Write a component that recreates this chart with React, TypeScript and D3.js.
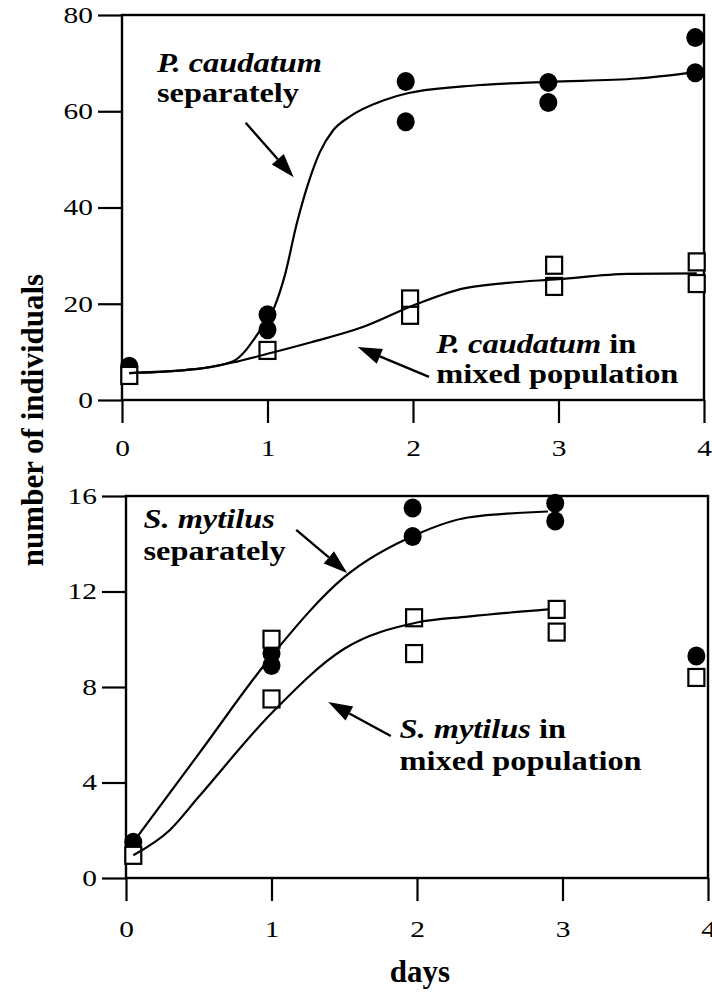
import React, { useEffect, useRef } from 'react';
import * as d3 from 'd3';

// day ticks shared by both panels
const dayTicks = [0, 1, 2, 3, 4];
const caudatumTicks = [0, 20, 40, 60, 80];
const mytilusTicks = [0, 4, 8, 12, 16];

// P. caudatum, top panel
const caudatumAloneDays = [0.05, 1.0, 1.0, 1.95, 1.95, 2.93, 2.93, 3.94, 3.94];
const caudatumAloneCounts = [7.0, 17.7, 14.6, 66.2, 57.8, 66.0, 61.8, 75.3, 68.0];
const caudatumMixedDays = [0.05, 1.0, 1.98, 1.98, 2.97, 2.97, 3.95, 3.95];
const caudatumMixedCounts = [5.1, 10.3, 21.0, 17.6, 28.0, 23.6, 28.7, 24.2];

const caudatumAloneFitDays = [0.05, 0.5, 0.76, 0.95, 1.05, 1.12, 1.2, 1.28, 1.36, 1.45, 1.56, 1.8, 1.97, 2.44, 2.93, 3.54, 3.95];
const caudatumAloneFitCounts = [5.6, 6.4, 8.0, 14.5, 19.5, 26.0, 36.5, 45.0, 51.5, 56.0, 58.8, 62.3, 63.8, 65.4, 66.1, 66.8, 68.2];
const caudatumMixedFitDays = [0.05, 0.5, 0.76, 1.0, 1.3, 1.65, 2.03, 2.35, 2.6, 3.0, 3.48, 3.95];
const caudatumMixedFitCounts = [5.6, 6.4, 7.8, 9.6, 12.0, 15.1, 20.0, 23.2, 24.2, 25.1, 26.2, 26.3];

// S. mytilus, bottom panel
const mytilusAloneDays = [0.05, 1.0, 1.0, 1.97, 1.97, 2.95, 2.95, 3.92];
const mytilusAloneCounts = [1.5, 9.4, 8.9, 15.5, 14.3, 15.7, 14.95, 9.3];
const mytilusMixedDays = [0.05, 1.0, 1.0, 1.98, 1.98, 2.96, 2.96, 3.92];
const mytilusMixedCounts = [0.95, 10.0, 7.5, 10.9, 9.4, 11.25, 10.3, 8.4];

const mytilusAloneFitDays = [0.05, 0.5, 1.0, 1.5, 2.0, 2.35, 2.9];
const mytilusAloneFitCounts = [1.5, 5.2, 9.3, 12.6, 14.4, 15.1, 15.35];
const mytilusMixedFitDays = [0.05, 0.3, 0.5, 1.0, 1.5, 2.0, 2.35, 2.9];
const mytilusMixedFitCounts = [0.95, 2.0, 3.4, 6.9, 9.6, 10.7, 10.95, 11.25];

const FONT = '"Liberation Serif", "Times New Roman", serif';
const STRETCH = 1.28; // the scanned figure is wider than it is tall
const NOTE_STRETCH = 1.2;

type Pt = [number, number];
const zip = (xs: number[], ys: number[]): Pt[] => xs.map((x, i) => [x, ys[i]]);

interface Note {
  lines: { italic: string; plain: string; at: Pt }[];
  tail: Pt;
  tip: Pt;
}

interface Panel {
  left: number; right: number; top: number; bottom: number;
  yMax: number; yTicks: number[]; labelPad: number;
  alone: Pt[]; mixed: Pt[]; aloneFit: Pt[]; mixedFit: Pt[];
  notes: Note[];
}

const panels: Panel[] = [
  {
    left: 122, right: 704, top: 15, bottom: 400, yMax: 80, yTicks: caudatumTicks, labelPad: 17,
    alone: zip(caudatumAloneDays, caudatumAloneCounts),
    mixed: zip(caudatumMixedDays, caudatumMixedCounts),
    aloneFit: zip(caudatumAloneFitDays, caudatumAloneFitCounts),
    mixedFit: zip(caudatumMixedFitDays, caudatumMixedFitCounts),
    notes: [
      { lines: [{ italic: 'P. caudatum', plain: '', at: [0.24, 68.2] }, { italic: '', plain: 'separately', at: [0.24, 61.9] }],
        tail: [0.85, 57.6], tip: [1.18, 46.3] },
      { lines: [{ italic: 'P. caudatum', plain: ' in', at: [2.16, 9.8] }, { italic: '', plain: 'mixed population', at: [2.16, 3.5] }],
        tail: [2.11, 4.8], tip: [1.62, 11.0] },
    ],
  },
  {
    left: 126, right: 708, top: 496, bottom: 878, yMax: 16, yTicks: mytilusTicks, labelPad: 20,
    alone: zip(mytilusAloneDays, mytilusAloneCounts),
    mixed: zip(mytilusMixedDays, mytilusMixedCounts),
    aloneFit: zip(mytilusAloneFitDays, mytilusAloneFitCounts),
    mixedFit: zip(mytilusMixedFitDays, mytilusMixedFitCounts),
    notes: [
      { lines: [{ italic: 'S. mytilus', plain: '', at: [0.12, 14.66] }, { italic: '', plain: 'separately', at: [0.12, 13.3] }],
        tail: [1.17, 14.58], tip: [1.52, 12.78] },
      { lines: [{ italic: 'S. mytilus', plain: ' in', at: [1.88, 5.86] }, { italic: '', plain: 'mixed population', at: [1.88, 4.52] }],
        tail: [1.82, 5.95], tip: [1.39, 7.37] },
    ],
  },
];

const drawPanel = (svg: d3.Selection<SVGSVGElement, unknown, null, undefined>, p: Panel) => {
  const x = d3.scaleLinear().domain([0, 4]).range([p.left, p.right]);
  const y = d3.scaleLinear().domain([0, p.yMax]).range([p.bottom, p.top]);
  const g = svg.append('g');

  // y axis ticks point outwards to the left
  const yAxis = g.append('g')
    .attr('transform', `translate(${p.left},0)`)
    .call(d3.axisLeft(y).tickValues(p.yTicks).tickSize(24).tickSizeOuter(0).tickPadding(5).tickFormat(d3.format('d')));
  yAxis.select('.domain').remove();
  yAxis.selectAll('line').attr('stroke', '#000').attr('stroke-width', 2.2);
  yAxis.selectAll('text')
    .attr('font-family', FONT).attr('font-size', 23).attr('fill', '#000')
    .attr('transform', function () {
      const t = d3.select(this);
      return `translate(${+t.attr('x')},0) scale(${STRETCH},1) translate(${-+t.attr('x')},0)`;
    });

  // x axis ticks hang below the frame
  const xAxis = g.append('g')
    .attr('transform', `translate(0,${p.bottom})`)
    .call(d3.axisBottom(x).tickValues(dayTicks).tickSize(23).tickSizeOuter(0).tickPadding(p.labelPad).tickFormat(d3.format('d')));
  xAxis.select('.domain').remove();
  xAxis.selectAll('line').attr('stroke', '#000').attr('stroke-width', 2.2);
  xAxis.selectAll('text')
    .attr('font-family', FONT).attr('font-size', 23).attr('fill', '#000')
    .attr('transform', `scale(${STRETCH},1)`);

  // frame
  g.append('rect')
    .attr('x', p.left).attr('y', p.top)
    .attr('width', p.right - p.left).attr('height', p.bottom - p.top)
    .attr('fill', 'none').attr('stroke', '#000').attr('stroke-width', 2.4);

  // markers
  g.selectAll('.alone').data(p.alone).enter().append('ellipse')
    .attr('cx', d => x(d[0])).attr('cy', d => y(d[1]))
    .attr('rx', 9).attr('ry', 9.5).attr('fill', '#000');
  g.selectAll('.mixed').data(p.mixed).enter().append('rect')
    .attr('x', d => x(d[0]) - 8).attr('y', d => y(d[1]) - 8.5)
    .attr('width', 16).attr('height', 17)
    .attr('fill', '#fff').attr('stroke', '#000').attr('stroke-width', 2.2);

  const line = d3.line<Pt>().x(d => x(d[0])).y(d => y(d[1])).curve(d3.curveMonotoneX);
  [p.aloneFit, p.mixedFit].forEach(fit => {
    g.append('path').attr('d', line(fit)).attr('fill', 'none')
      .attr('stroke', '#000').attr('stroke-width', 2.2);
  });

  // annotations with arrows
  p.notes.forEach(n => {
    n.lines.forEach(l => {
      const t = g.append('text')
        .attr('transform', `translate(${x(l.at[0])},${y(l.at[1])}) scale(${NOTE_STRETCH},1)`)
        .attr('font-family', FONT).attr('font-size', 27).attr('font-weight', 'bold');
      if (l.italic) t.append('tspan').attr('font-style', 'italic').text(l.italic);
      if (l.plain) t.append('tspan').text(l.plain);
    });
    const x0 = x(n.tail[0]), y0 = y(n.tail[1]), x1 = x(n.tip[0]), y1 = y(n.tip[1]);
    const len = Math.hypot(x1 - x0, y1 - y0);
    const ux = (x1 - x0) / len, uy = (y1 - y0) / len;
    const head = 24, half = 8;
    const bx = x1 - ux * head, by = y1 - uy * head;
    g.append('line').attr('x1', x0).attr('y1', y0).attr('x2', bx).attr('y2', by)
      .attr('stroke', '#000').attr('stroke-width', 2.4);
    g.append('path')
      .attr('d', `M${x1},${y1}L${bx - uy * half},${by + ux * half}L${bx + uy * half},${by - ux * half}Z`)
      .attr('fill', '#000');
  });
};

const App = () => {
  const ref = useRef<SVGSVGElement>(null);

  useEffect(() => {
    const svg = d3.select(ref.current as SVGSVGElement);
    svg.selectAll('*').remove();
    panels.forEach(p => drawPanel(svg, p));

    svg.append('text')
      .attr('transform', 'translate(43,420) rotate(-90)')
      .attr('text-anchor', 'middle')
      .attr('font-family', FONT).attr('font-size', 31).attr('font-weight', 'bold')
      .text('number of individuals');

    svg.append('text')
      .attr('x', 420).attr('y', 982)
      .attr('text-anchor', 'middle')
      .attr('font-family', FONT).attr('font-size', 31).attr('font-weight', 'bold')
      .text('days');
  }, []);

  return (
    <svg ref={ref} width={712} height={994}
      style={{ position: 'absolute', left: 0, top: 0, background: '#fff' }} />
  );
};

export default App;
